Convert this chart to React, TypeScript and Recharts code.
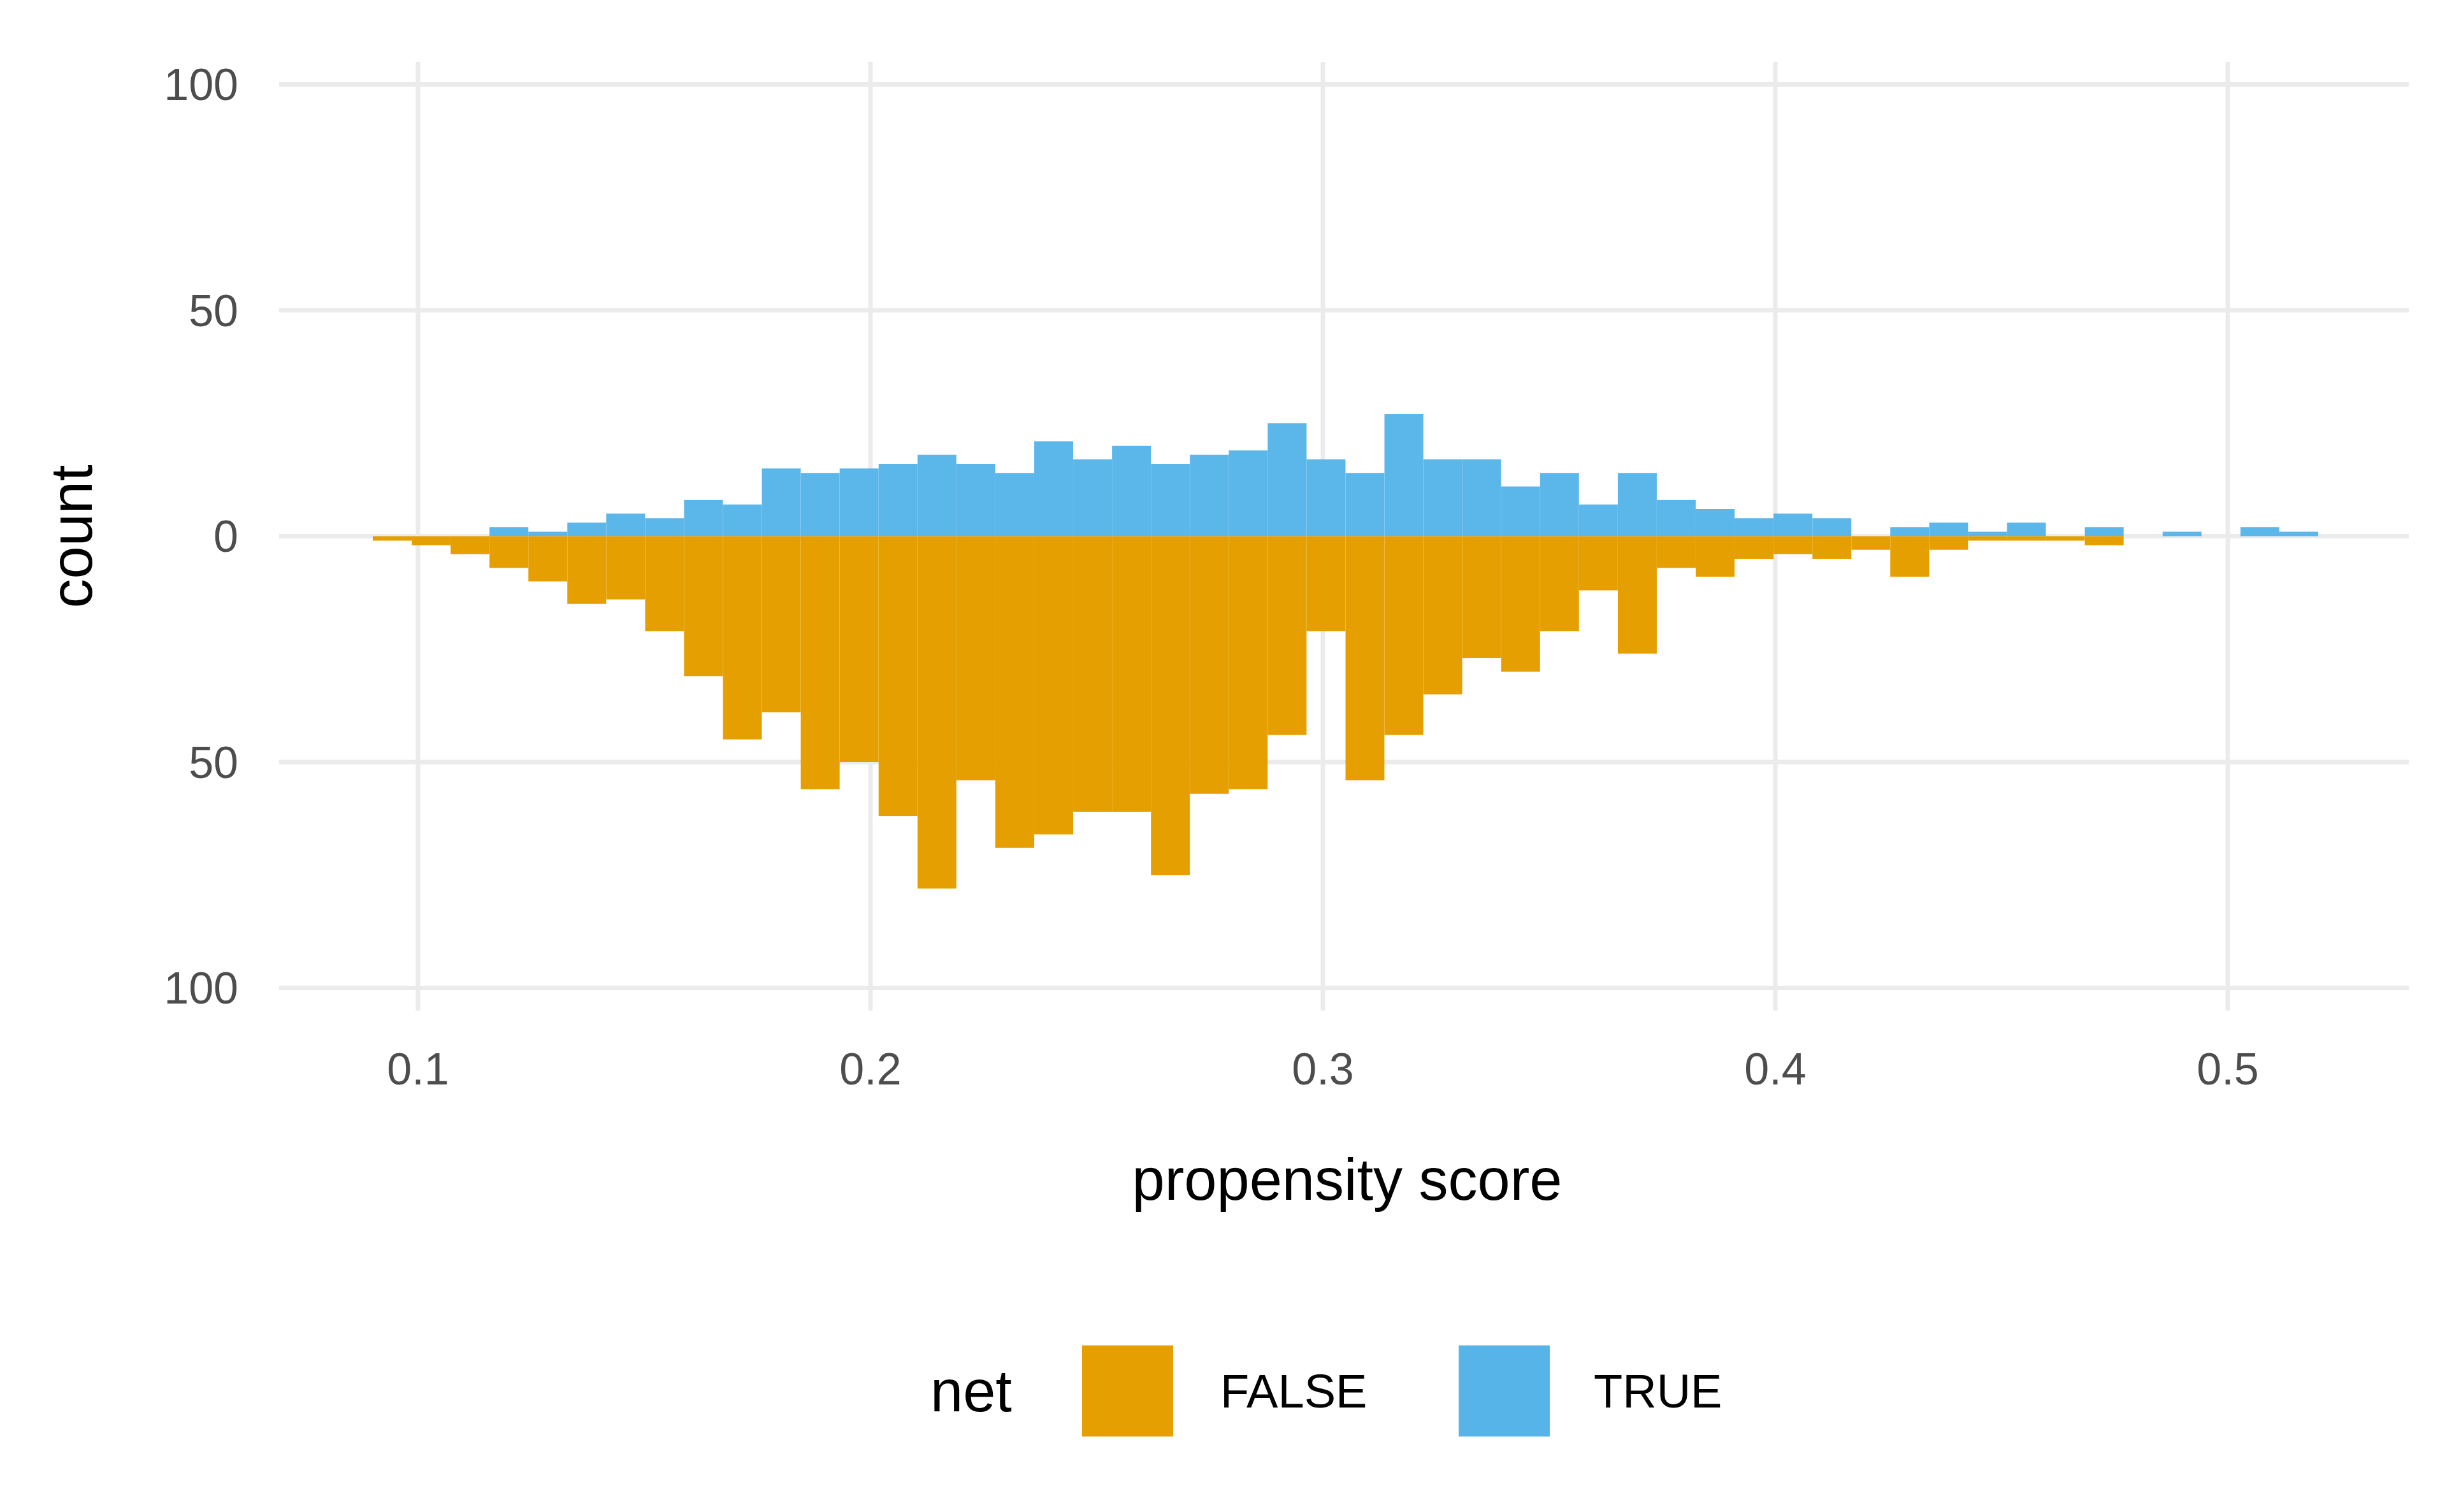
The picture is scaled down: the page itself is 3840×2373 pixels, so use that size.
import { ComposedChart, Bar, XAxis, YAxis, CartesianGrid } from 'recharts';

// 50 bins from 0.09 to 0.52
const binStart = 0.09;
const binWidth = 0.0086;
const trueCounts = [
  0, 0, 0, 2, 1, 3, 5, 4, 8, 7, 15, 14, 15, 16, 18, 16, 14, 21, 17, 20,
  16, 18, 19, 25, 17, 14, 27, 17, 17, 11, 14, 7, 14, 8, 6, 4, 5, 4, 0, 2,
  3, 1, 3, 0, 2, 0, 1, 0, 2, 1,
];
const falseCounts = [
  1, 2, 4, 7, 10, 15, 14, 21, 31, 45, 39, 56, 50, 62, 78, 54, 69, 66, 61, 61,
  75, 57, 56, 44, 21, 54, 44, 35, 27, 30, 21, 12, 26, 7, 9, 5, 4, 5, 3, 9,
  3, 1, 1, 1, 2, 0, 0, 0, 0, 0,
];
const xTicks = [0.1, 0.2, 0.3, 0.4, 0.5];
const yTicks = [-100, -50, 0, 50, 100];

const data = trueCounts.map((t, i) => ({
  x: binStart + binWidth * (i + 0.5),
  yes: t,
  no: -falseCounts[i],
}));

const FONT = 'Liberation Sans, Arial, sans-serif';
const tick = { fill: '#4d4d4d', fontSize: 70, fontFamily: FONT };

const abs = (left: number, top: number, extra: object = {}) => ({
  position: 'absolute' as const, left, top, transform: 'translateY(-50%)', ...extra,
});

export default function App() {
  return (
    <div style={{ position: 'absolute', left: 0, top: 0, width: 3840, height: 2373, background: '#fff', fontFamily: FONT }}>
      <ComposedChart
        width={3840}
        height={1950}
        data={data}
        stackOffset="sign"
        barCategoryGap={0}
        barGap={0}
        margin={{ top: 97, right: 60, left: 38, bottom: 64 }}
      >
        <CartesianGrid stroke="#ebebeb" strokeWidth={7} verticalValues={xTicks} horizontalValues={yTicks} />
        <XAxis
          dataKey="x"
          type="number"
          domain={[0.0693, 0.54]}
          allowDataOverflow
          ticks={xTicks}
          tickFormatter={(v: number) => String(v)}
          tick={tick}
          tickLine={false}
          axisLine={false}
          tickMargin={60}
          height={300}
        />
        <YAxis
          type="number"
          domain={[-105, 105]}
          ticks={yTicks}
          tickFormatter={(v: number) => String(Math.abs(v))}
          tick={tick}
          tickLine={false}
          axisLine={false}
          tickMargin={58}
          width={400}
        />
        <Bar dataKey="yes" stackId="a" fill="#56B4E9" fillOpacity={0.97} isAnimationActive={false} />
        <Bar dataKey="no" stackId="a" fill="#E69F00" isAnimationActive={false} />
      </ComposedChart>
      <div style={{ position: 'absolute', left: 2114, top: 1851, transform: 'translate(-50%,-50%)', fontSize: 92, color: '#000', whiteSpace: 'nowrap' }}>
        propensity score
      </div>
      <div style={{ position: 'absolute', left: 112, top: 842, transform: 'translate(-50%,-50%) rotate(-90deg)', fontSize: 92, color: '#000' }}>
        count
      </div>
      <div style={abs(1460, 2183, { fontSize: 92 })}>net</div>
      <div style={abs(1698, 2183, { width: 143, height: 143, background: '#E69F00' })} />
      <div style={abs(1915, 2183, { fontSize: 74 })}>FALSE</div>
      <div style={abs(2289, 2183, { width: 143, height: 143, background: '#56B4E9' })} />
      <div style={abs(2501, 2183, { fontSize: 74 })}>TRUE</div>
    </div>
  );
}
